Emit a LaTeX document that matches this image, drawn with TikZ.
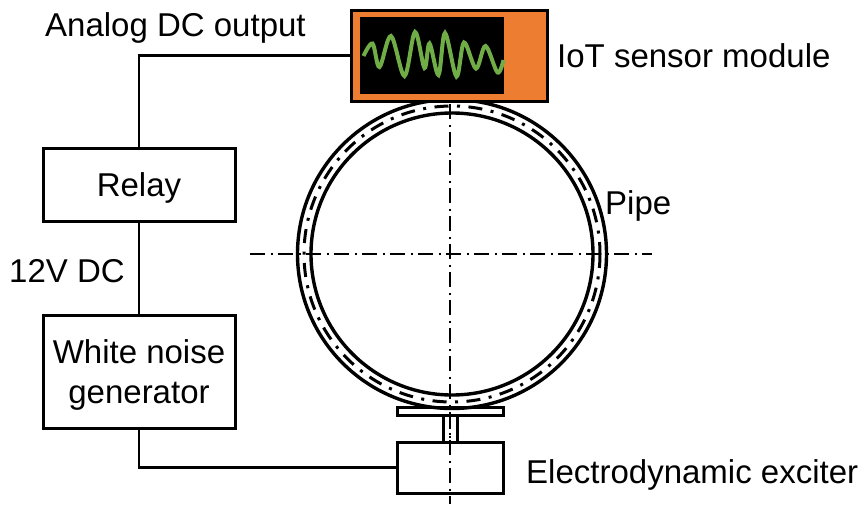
\documentclass[tikz,border=0pt]{standalone}
\usepackage{fontspec}
\setmainfont{Liberation Sans}
\usetikzlibrary{calc}
\definecolor{moduleorange}{HTML}{ED7D31}
\definecolor{wavegreen}{HTML}{70AD47}
\tikzset{
	box/.style={draw, line width=3pt, align=center, font=\fontsize{33}{40}\selectfont, inner sep=0pt, text depth=0pt},
	lbl/.style={font=\fontsize{33}{40}\selectfont, inner sep=0pt, anchor=base west},
	wire/.style={line width=2.8pt},
	axisline/.style={line width=1.6pt, dash pattern=on 15pt off 5.5pt on 2pt off 5.5pt},
	ringline/.style={line width=3pt, dash pattern=on 14pt off 8.5pt on 3pt off 8.5pt},
}
\begin{document}
\begin{tikzpicture}[x=1pt,y=-1pt]
	\useasboundingbox (0,0) rectangle (864,504);

	% pipe
	\coordinate (pipec) at (452,254);
	\draw[line width=3.4pt] (pipec) circle(154.5);
	\draw[line width=3.4pt] (pipec) circle(141);
	\draw[ringline] (pipec) circle(148);

	% centre lines
	\coordinate (axl) at (250,254);
	\coordinate (axr) at (652,254);
	\coordinate (axt) at (450,104);
	\coordinate (axb) at (450,504);
	\draw[axisline] (axl) -- (axr);
	\draw[axisline] (axt) -- (axb);

	% sensor module
	\node[box, fill=moduleorange, minimum width=196pt, minimum height=91pt] (module) at (449.5,55.5) {};
	\fill[black] (360,17) rectangle (503.5,94);
	\draw[wavegreen, line width=4pt, smooth, tension=0.55] plot coordinates {
		(363.5,56) (372.5,43.5) (379.5,67) (391,36) (404.5,76) (415,32) (424.5,68)
		(429.5,43.5) (438.5,75) (445,33) (456.5,76.5) (464,42.5) (476,68.5)
		(485.5,46) (497.5,72.5) (503.5,60)};

	% exciter
	\node[box, minimum width=106pt, minimum height=8pt] (plate) at (450,411) {};
	\node[box, minimum width=14pt, minimum height=27pt] (stem) at (450,428.5) {};
	\node[box, minimum width=106pt, minimum height=51pt] (exciter) at (450,467.5) {};
	\coordinate (stemt) at (450,414);
	\coordinate (stemb) at (450,442);
	\draw[line width=1.6pt, dash pattern=on 15pt off 7pt on 2pt off 7pt] (stemt) -- (stemb);

	% boxes
	\node[box, minimum width=192pt, minimum height=73pt] (relay) at (139,185) {Relay};
	\node[box, minimum width=192pt, minimum height=113pt] (noise) at (139,371.5) {White noise\\generator};

	% wires
	\draw[wire] (module.west) -- (module.west -| relay.north) -- (relay.north);
	\draw[wire] (relay.south) -- (noise.north);
	\draw[wire] (noise.south) |- (exciter.west);

	% labels
	\node[lbl] (outlbl) at (45,36) {Analog DC output};
	\node[lbl] (iotlbl) at (557,67) {IoT sensor module};
	\node[lbl] (pipelbl) at (605,214) {Pipe};
	\node[lbl] (dclbl) at (9,282) {12V DC};
	\node[lbl] (exclbl) at (526,483) {Electrodynamic exciter};
\end{tikzpicture}
\end{document}
